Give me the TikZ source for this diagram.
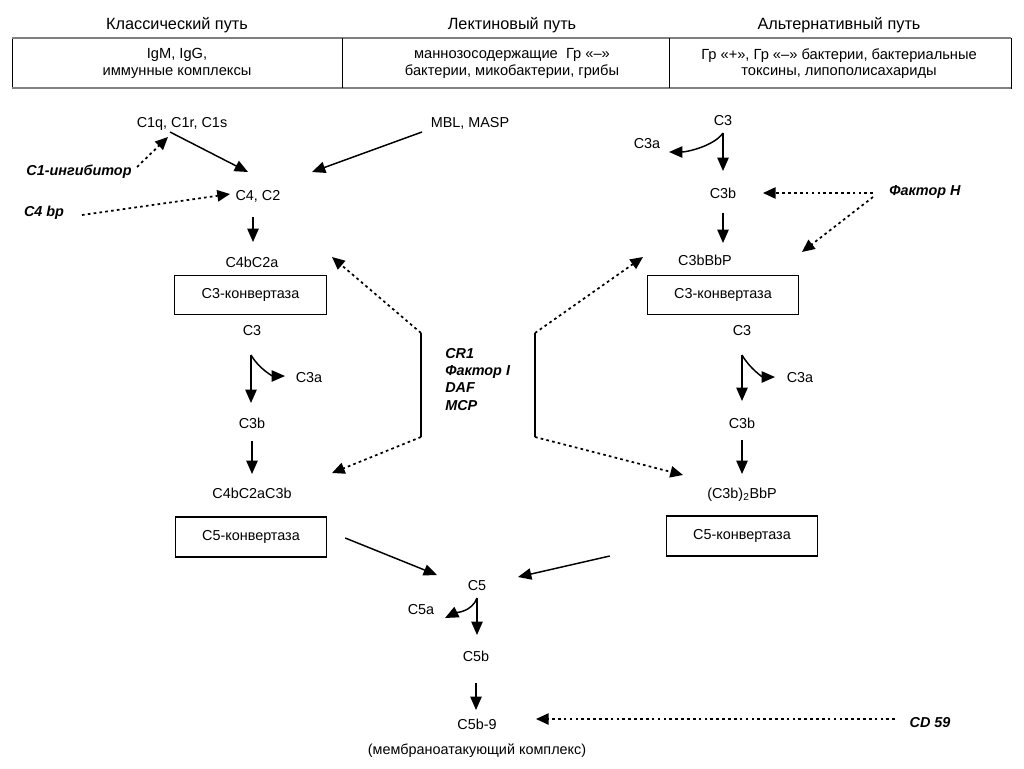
\documentclass[tikz,border=0pt]{standalone}
\usepackage{fontspec}
\setmainfont{Liberation Sans}
\usetikzlibrary{arrows.meta,calc}

\begin{document}
\begin{tikzpicture}[x=0.75pt,y=-0.75pt,
    lbl/.style={inner sep=0pt,text height=7.8pt,text depth=0pt,font=\fontsize{10.8}{13}\selectfont},
    ctrl/.style={lbl,font=\fontsize{10.8}{13}\selectfont\bfseries\itshape},
    conv/.style={draw,line width=0.8pt,minimum width=113.5pt,minimum height=29pt,inner sep=0pt,font=\fontsize{10.8}{13}\selectfont},
    hdr/.style={inner sep=0pt,text height=8.7pt,text depth=0pt,font=\fontsize{12.2}{14}\selectfont},
    src/.style={inner sep=0pt,align=center,anchor=north,font=\fontsize{11}{12.5}\selectfont},
    flow/.style={-{Triangle[length=10pt,width=8.5pt]},line width=1.1pt},
    block/.style={-{Triangle[length=9.5pt,width=8.5pt]},line width=1.3pt,dash pattern=on 2pt off 2.4pt}]
\useasboundingbox (0,0) rectangle (1024,768);

% Header and table
\node[hdr] (hcl) at (177,24) {Классический путь};
\node[hdr] (hle) at (512,24) {Лектиновый путь};
\node[hdr] (hal) at (839,24) {Альтернативный путь};
\draw[line width=0.6pt] (12,38) rectangle (1011,88);
\draw[line width=1.8pt,gray] (12,38) -- (1011,38) (12,88) -- (1011,88);
\draw[line width=0.6pt] (342,38) -- (342,88) (669,38) -- (669,88);
\node[src] (scl) at (177,48) {IgM, IgG,\\иммунные комплексы};
\node[src] (sle) at (512,48) {маннозосодержащие\ \ Гр «–»\\бактерии, микобактерии, грибы};
\node[src] (sal) at (839,48) {Гр «+», Гр «–» бактерии, бактериальные\\токсины, липополисахариды};

% Classical and lectin pathway
\node[lbl] (c1) at (182,122) {C1q, C1r, C1s};
\node[lbl] (mbl) at (470,122) {MBL, MASP};
\node[ctrl] (c1inh) at (79,170) {C1-ингибитор};
\node[ctrl] (c4bp) at (44,211) {C4 bp};
\node[lbl] (c4c2) at (258,195) {C4, C2};
\node[lbl] (c4bc2a) at (252,262) {C4bC2a};
\node[conv] (box3l) at (250.5,295) {C3-конвертаза};
\node[lbl] (c3l) at (252,330) {C3};
\node[lbl] (c3al) at (309,377) {C3a};
\node[lbl] (c3bl) at (252,423) {C3b};
\node[lbl] (c4bc2ac3b) at (252,493) {C4bC2aC3b};
\node[conv,minimum height=30pt] (box5l) at (251,537) {C5-конвертаза};

% Alternative pathway
\node[lbl] (c3r0) at (723,120) {C3};
\node[lbl] (c3ar0) at (647,143) {C3a};
\node[lbl] (c3br0) at (723,193) {C3b};
\node[ctrl] (fh) at (925,190) {Фактор H};
\node[lbl] (c3bbbp) at (705,260) {C3bBbP};
\node[conv] (box3r) at (723,295) {C3-конвертаза};
\node[lbl] (c3r) at (742,330) {C3};
\node[lbl] (c3ar) at (800,377) {C3a};
\node[lbl] (c3br) at (742,423) {C3b};
\node[lbl] (c3b2) at (742,493) {(C3b)\textsubscript{2}BbP};
\node[conv,minimum height=30pt] (box5r) at (742,536) {C5-конвертаза};

% Common terminal pathway
\node[lbl] (c5) at (477,585) {C5};
\node[lbl] (c5a) at (421,609) {C5a};
\node[lbl] (c5b) at (476,656) {C5b};
\node[lbl] (c5b9) at (477,724) {C5b-9};
\node[lbl] (mac) at (477,749) {(мембраноатакующий комплекс)};
\node[ctrl] (cd59) at (930,722) {CD 59};
\node[inner sep=0pt,align=left,anchor=north west,font=\fontsize{10.8}{13}\selectfont\bfseries\itshape] (regs) at (445,348) {CR1\\Фактор I\\DAF\\MCP};

% Activation arrows
\draw[flow] ($(c1)+(-12,10)$) -- ($(c4c2)+(-10,-23)$);
\draw[flow] ($(mbl)+(-48,10)$) -- ($(c4c2)+(54,-23)$);
\draw[flow] ($(c4c2)+(-5,22)$) -- ($(c4bc2a)+(1,-20)$);
\draw[flow] ($(c3l)+(-1,25)$) .. controls +(8,14) and +(-12,0) .. ($(c3al)+(-24,-1)$);
\draw[flow] ($(c3l)+(-1,25)$) -- ($(c3bl)+(-1,-20)$);
\draw[flow] ($(c3bl)+(0,18)$) -- ($(c4bc2ac3b)+(0,-19)$);
\draw[flow] ($(box5l.east)+(18,1)$) -- ($(c5)+(-40,-10)$);
\draw[flow] ($(c3r0)+(0,13)$) .. controls +(-9,13) and +(18,0) .. ($(c3ar0)+(22,9)$);
\draw[flow] ($(c3r0)+(0,13)$) -- ($(c3br0)+(0,-22)$);
\draw[flow] ($(c3br0)+(0,20)$) -- ($(c3bbbp)+(18,-17)$);
\draw[flow] ($(c3r)+(0,25)$) .. controls +(8,14) and +(-12,0) .. ($(c3ar)+(-25,0)$);
\draw[flow] ($(c3r)+(0,25)$) -- ($(c3br)+(0,-22)$);
\draw[flow] ($(c3br)+(0,17)$) -- ($(c3b2)+(0,-19)$);
\draw[flow] ($(box5r.west)+(-56,20)$) -- ($(c5)+(41,-8)$);
\draw[flow] ($(c5)+(0,13)$) .. controls +(-5,14) and +(10,-5) .. ($(c5a)+(24,9)$);
\draw[flow] ($(c5)+(0,13)$) -- ($(c5b)+(1,-21)$);
\draw[flow] ($(c5b)+(0,27)$) -- ($(c5b9)+(-1,-14)$);

% Regulators
\draw[block] ($(c1inh)+(58,-3)$) -- ($(c1)+(-14,15)$);
\draw[block] ($(c4bp)+(38,4)$) -- ($(c4c2)+(-28,-1)$);
\draw[block] ($(fh)+(-52,3)$) -- ($(c3br0)+(40,0)$);
\draw[block] ($(fh)+(-52,7)$) -- ($(c3bbbp)+(97,-8)$);
\draw[block] ($(cd59)+(-35,-3)$) -- ($(c5b9)+(59,-5)$);
\coordinate (lbt) at (421,333);
\coordinate (lbb) at (421,437);
\coordinate (rbt) at (535,333);
\coordinate (rbb) at (535,437);
\draw[line width=1pt] (lbt) -- (lbb) (rbt) -- (rbb);
\draw[block] (lbt) -- ($(c4bc2a)+(80,-5)$);
\draw[block] (lbb) -- ($(c4bc2ac3b)+(80,-20)$);
\draw[block] (rbt) -- ($(c3bbbp)+(-62,-3)$);
\draw[block] (rbb) -- ($(c3b2)+(-59,-18)$);

\end{tikzpicture}
\end{document}
